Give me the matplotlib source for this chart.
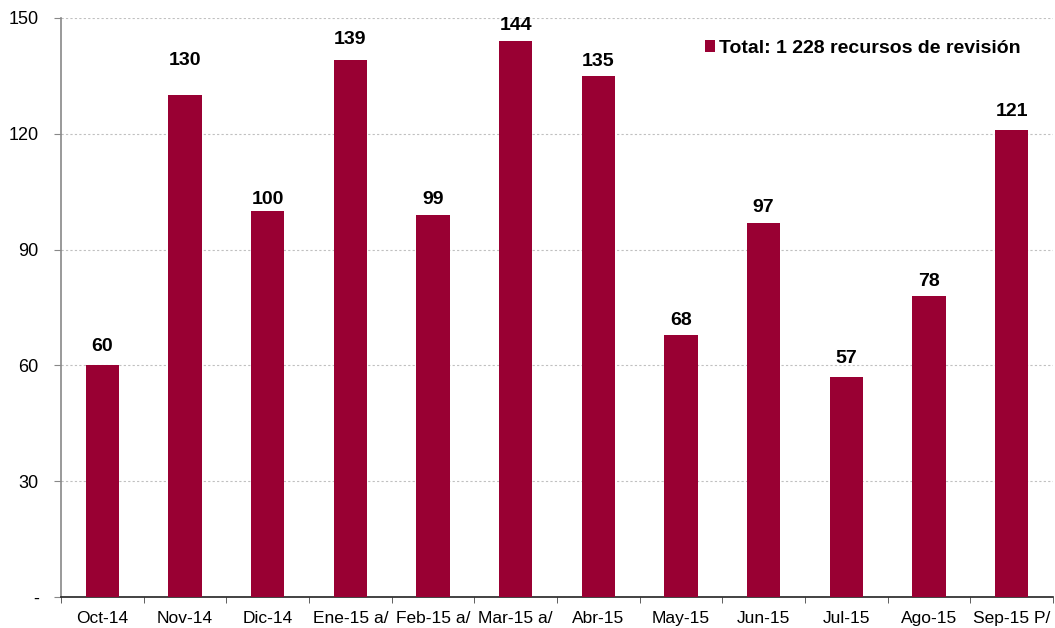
import matplotlib
matplotlib.use("Agg")
import matplotlib.pyplot as plt
from matplotlib.ticker import FixedLocator

plt.rcParams['font.family'] = ['Liberation Sans', 'DejaVu Sans']

categories = ["Oct-14", "Nov-14", "Dic-14", "Ene-15 a/", "Feb-15 a/", "Mar-15 a/",
              "Abr-15", "May-15", "Jun-15", "Jul-15", "Ago-15", "Sep-15 P/"]
values = [60, 130, 100, 139, 99, 144, 135, 68, 97, 57, 78, 121]
yticks = [0, 30, 60, 90, 120, 150]
ytick_labels = ["-", "30", "60", "90", "120", "150"]
legend_label = "Total: 1 228 recursos de revisión"

# styling: gap (in pixels) between bar top and its value label
label_gap_px = [10, 26, 3, 12, 7, 7, 6, 6, 7, 10, 6, 10]

color = "#990033"

fig = plt.figure(figsize=(10.55, 6.28), dpi=100)
ax = fig.add_axes([61 / 1055, 31 / 628, 992 / 1055, 579 / 628])

x = list(range(len(categories)))
ax.bar(x, values, width=0.4, color=color, label=legend_label, zorder=3)

for xi, v, g in zip(x, values, label_gap_px):
    ax.annotate(str(v), xy=(xi, v), xytext=(0, g * 0.72), textcoords='offset points',
                ha='center', va='bottom', fontsize=14, fontweight='bold',
                color='black', zorder=4)

ax.set_xlim(-0.5, len(categories) - 0.5)
ax.set_ylim(0, 150)
ax.set_yticks(yticks)
ax.set_yticklabels(ytick_labels, fontsize=13)
ax.set_xticks(x)
ax.set_xticklabels(categories, fontsize=12.5)
ax.xaxis.set_minor_locator(FixedLocator([i + 0.5 for i in range(-1, len(categories))]))
ax.tick_params(axis='x', which='major', length=0, pad=10)
ax.tick_params(axis='x', which='minor', length=4.5, color='#444444', direction='out')
ax.tick_params(axis='y', length=5, color='#888888', pad=11)

ax.yaxis.grid(True, linestyle=(0, (2, 2)), color='#c0c0c0', linewidth=0.8, zorder=0)
ax.set_axisbelow(True)

for s in ['top', 'right']:
    ax.spines[s].set_visible(False)
ax.spines['left'].set_color('#888888')
ax.spines['left'].set_linewidth(1.2)
ax.spines['bottom'].set_color('#222222')
ax.spines['bottom'].set_linewidth(1.2)

ax.legend(loc='center left', bbox_to_anchor=(0.649, 0.948), frameon=False,
          prop={'size': 14, 'weight': 'bold'}, handlelength=0.52,
          handleheight=0.56, handletextpad=0.2, borderpad=0, borderaxespad=0)

fig.savefig("out.png", dpi=100)
